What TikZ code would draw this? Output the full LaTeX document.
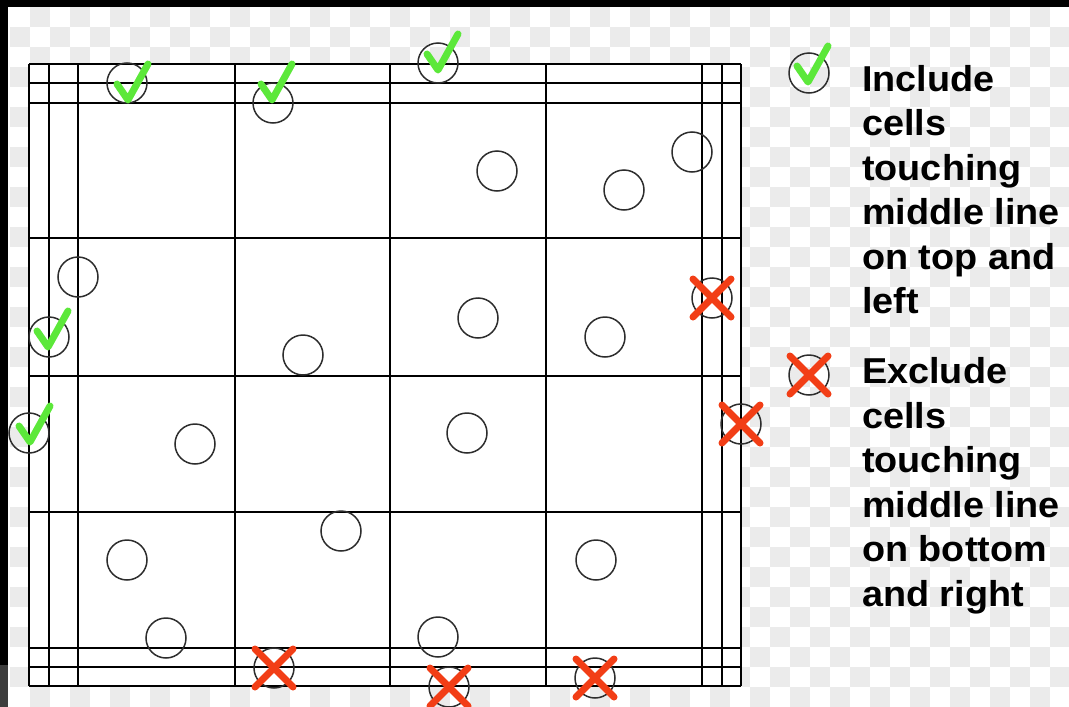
\documentclass[tikz,border=0pt]{standalone}
\usepackage{fontspec}
\newfontfamily\lab[FakeStretch=1.05]{Liberation Sans}
\definecolor{chkgreen}{RGB}{92,232,58}
\definecolor{xred}{RGB}{242,62,22}
\definecolor{checker}{RGB}{235,235,235}
\definecolor{ringgray}{RGB}{45,45,45}
\begin{document}
\begin{tikzpicture}[x=1pt,y=-1pt,
  ring/.style={circle,draw=ringgray,line width=1.5pt,minimum size=40pt,inner sep=0pt},
  gridline/.style={line width=1.8pt,black},
  chk/.style={draw=chkgreen,line width=7pt,line cap=round,line join=round},
  xmark/.style={draw=xred,line width=7pt,line cap=round},
  lbl/.style={font=\lab\bfseries\fontsize{36}{44}\selectfont,anchor=base west,inner sep=0pt}]
\useasboundingbox (0,0) rectangle (1069,707);
% background checkerboard
\fill[white] (0,0) rectangle (1069,707);
\foreach \i in {0,...,53}{
  \foreach \j in {0,...,35}{
    \pgfmathtruncatemacro{\parity}{mod(\i+\j,2)}
    \ifnum\parity=1
      \fill[checker] ({10+20*\i},{7+20*\j}) rectangle +(20,20);
    \fi
  }
}
% frame bands
\fill[black] (0,0) rectangle (1069,7);
\fill[black] (0,0) rectangle (8,665);
\fill[black!76] (0,665) rectangle (8,707);
% grid
\fill[white] (29,64) rectangle (741,686);
\foreach \x in {29,49,78,235,390,546,702,722,741}
  \draw[gridline] (\x,64) -- (\x,686);
\foreach \y in {64,83,103,238,376,512,648,667,686}
  \draw[gridline] (29,\y) -- (741,\y);
% plain circles
\foreach \n/\p in {p1/{(497,171)},p2/{(624,190)},p3/{(692,152)},p4/{(78,277)},
  p5/{(303,355)},p6/{(478,318)},p7/{(605,337)},p8/{(195,444)},p9/{(467,433)},
  p10/{(341,531)},p11/{(127,560)},p12/{(596,560)},p13/{(166,638)},p14/{(438,637)}}
  \node[ring] (\n) at \p {};
% included circles
\node[ring] (i1) at (127,83) {};
\node[ring] (i2) at (273,103) {};
\node[ring] (i3) at (438,63) {};
\node[ring] (i4) at (49,337) {};
\node[ring] (i5) at (29,433) {};
\node[ring] (li) at (809,73) {};
% excluded circles
\node[ring] (e1) at (712,298) {};
\node[ring] (e2) at (741,424) {};
\node[ring] (e3) at (274,668) {};
\node[ring] (e4) at (449,687) {};
\node[ring] (e5) at (595,678) {};
\node[ring] (le) at (809,375) {};
% check marks (bottom vertex given)
\foreach \b in {{(128,100)},{(272,100)},{(438,70)},{(48,347)},{(30,442)},{(808,82)}}
  \draw[chk,shift={\b}] (-11,-16) -- (0,0) -- (20,-36);
% crosses
\foreach \c in {e1,e2,e3,e4,e5,le}{
  \draw[xmark] ([shift={(-19,-19)}]\c.center) -- ([shift={(19,19)}]\c.center);
  \draw[xmark] ([shift={(19,-19)}]\c.center) -- ([shift={(-19,19)}]\c.center);
}
% legend text
\node[lbl] (a1) at (862,91) {Include};
\node[lbl] (a2) at (862,135.5) {cells};
\node[lbl] (a3) at (862,180) {touching};
\node[lbl] (a4) at (862,224.5) {middle line};
\node[lbl] (a5) at (862,269) {on top and};
\node[lbl] (a6) at (862,313) {left};
\node[lbl] (b1) at (862,383) {Exclude};
\node[lbl] (b2) at (862,428) {cells};
\node[lbl] (b3) at (862,472) {touching};
\node[lbl] (b4) at (862,517) {middle line};
\node[lbl] (b5) at (862,561.5) {on bottom};
\node[lbl] (b6) at (862,606) {and right};
\end{tikzpicture}
\end{document}
